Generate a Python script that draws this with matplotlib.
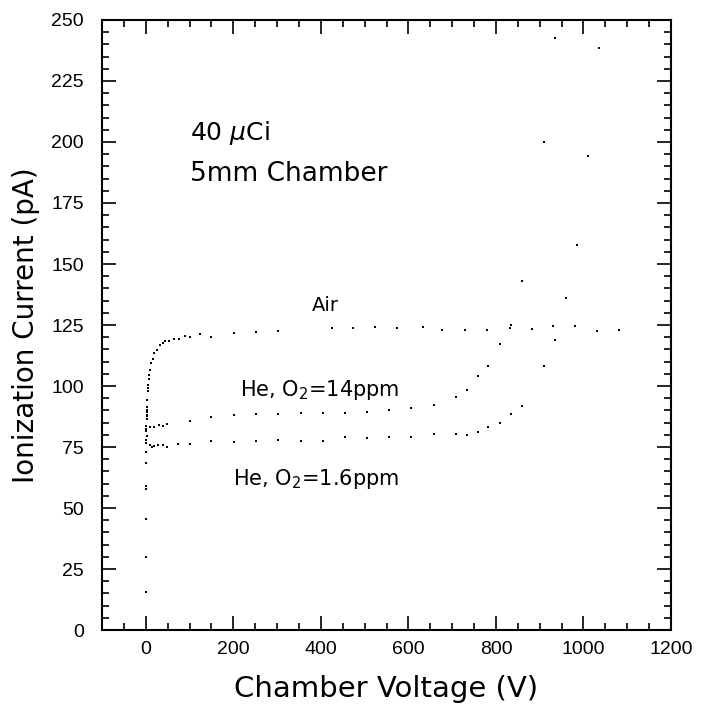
import matplotlib
matplotlib.use("Agg")
import matplotlib.pyplot as plt
from matplotlib.ticker import MultipleLocator

# Air
air_v = [2.0, 2.0, 2.0, 2.7, 2.7, 2.7, 3.4, 4.3, 5.0, 5.7, 7.3, 8.0, 9.6, 11.9, 15.7,
         19.4, 24.8, 32.4, 38.5, 44, 52, 65, 76.6, 89.6, 101, 125, 150, 202, 252, 303,
         425, 474, 524, 575, 633, 676, 730, 780, 831, 882, 930, 980, 1031, 1082]
air_i = [86.5, 88.2, 90.0, 87.8, 89.5, 91.3, 94.4, 98.0, 99.0, 100.4, 102.9, 104.4, 106.4,
         109.4, 111.1, 113.5, 114.9, 116.7, 117.5, 118.3, 118.6, 119.4, 119.3, 120.5,
         120.2, 121.2, 120.2, 121.9, 122.1, 122.4, 123.6, 123.6, 124.3, 123.9, 124.0,
         123.0, 123.0, 123.0, 123.8, 123.4, 124.7, 124.7, 122.5, 123.0]

# He, O2 = 14 ppm
he14_v = [0.5, 1.0, 1.5, 2.0, 9, 18.7, 29.4, 39, 49, 100, 150, 202, 252, 303, 354, 404,
          455, 505, 556, 606, 658, 708, 733, 758, 783, 809, 834, 860, 910, 935]
he14_i = [83.6, 82.3, 81.7, 79.5, 83.2, 83.2, 83.9, 83.7, 84.4, 85.7, 87.2, 88.0, 88.4,
          88.4, 89.1, 88.8, 88.8, 89.3, 90.3, 91.0, 92.2, 95.6, 98.4, 104.1, 108.2,
          117.2, 125.0, 142.9, 200.0, 242.6]

# He, O2 = 1.6 ppm
he16_v = [0.0, 0.2, 0.3, 0.5, 0.6, 0.8, 1.0, 1.2, 1.5, 9, 15, 18.7, 29, 39, 49, 74, 100,
          150, 202, 252, 303, 354, 404, 455, 505, 556, 606, 658, 708, 733, 758, 783,
          809, 834, 860, 910, 935, 961, 986, 1011, 1036]
he16_i = [15.6, 30.0, 45.5, 57.7, 59.0, 68.4, 73.0, 76.6, 78.0, 75.9, 74.9, 75.5, 75.7,
          75.7, 75.0, 76.1, 76.4, 77.5, 77.2, 77.6, 78.0, 77.6, 77.6, 79.0, 78.8, 79.0,
          79.2, 80.2, 80.3, 79.9, 81.1, 83.0, 85.0, 88.7, 92.0, 108.2, 118.7, 136.0,
          157.8, 194.3, 238.4]

fig = plt.figure(figsize=(7.07, 7.06), dpi=100)
ax = fig.add_axes([0.1443, 0.1076, 0.8048, 0.8641])

for v, i in [(air_v, air_i), (he14_v, he14_i), (he16_v, he16_i)]:
    ax.plot(v, i, linestyle="none", marker="s", markersize=1.5, color="black",
            markeredgewidth=0)

ax.set_xlim(-100, 1200)
ax.set_ylim(0, 250)
ax.xaxis.set_major_locator(MultipleLocator(200))
ax.xaxis.set_minor_locator(MultipleLocator(50))
ax.yaxis.set_major_locator(MultipleLocator(25))
ax.yaxis.set_minor_locator(MultipleLocator(5))
ax.tick_params(which="both", direction="in", top=True, right=True, width=1.2,
               labelsize=14)
ax.tick_params(axis="x", pad=8)
ax.tick_params(axis="y", pad=13)
ax.tick_params(which="major", length=10)
ax.tick_params(which="minor", length=5)
for lab in ax.get_xticklabels() + ax.get_yticklabels():
    lab.set_family("Liberation Sans")
for s in ax.spines.values():
    s.set_linewidth(1.5)

ax.set_xlabel("Chamber Voltage (V)", fontsize=21, labelpad=12)
ax.set_ylabel("Ionization Current (pA)", fontsize=20, labelpad=8)

ax.text(101, 201, r"40 $\mu$Ci", fontsize=18)
ax.text(101, 184, "5mm Chamber", fontsize=19)
ax.text(410, 133, "Air", fontsize=14, ha="center", va="center")
ax.text(215, 98.5, r"He, O$_2$=14ppm", fontsize=15, va="center")
ax.text(199, 62, r"He, O$_2$=1.6ppm", fontsize=15, va="center")

fig.savefig("out.png", dpi=100)
